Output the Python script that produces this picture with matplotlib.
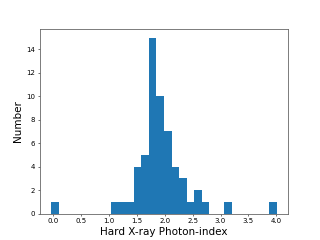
import numpy as np
import matplotlib
matplotlib.use("Agg")
import matplotlib.pyplot as plt

bin_edges = np.linspace(-0.04, 4.01, 31)
counts = [1, 0, 0, 0, 0, 0, 0, 0, 1, 1,
          1, 4, 5, 15, 10, 7, 4, 3, 1, 2,
          1, 0, 0, 1, 0, 0, 0, 0, 0, 1]
xlabel = "Hard X-ray Photon-index"
ylabel = "Number"

fig, ax = plt.subplots(figsize=(6.4, 4.8), dpi=50)
centers = (bin_edges[:-1] + bin_edges[1:]) / 2
ax.hist(centers, bins=bin_edges, weights=counts, color="#1f77b4")
ax.set_xlabel(xlabel, fontsize=15)
ax.set_ylabel(ylabel, fontsize=15)
for s in ax.spines.values():
    s.set_color("0.4")
    s.set_linewidth(1.2)
fig.savefig("out.png", dpi=50)
